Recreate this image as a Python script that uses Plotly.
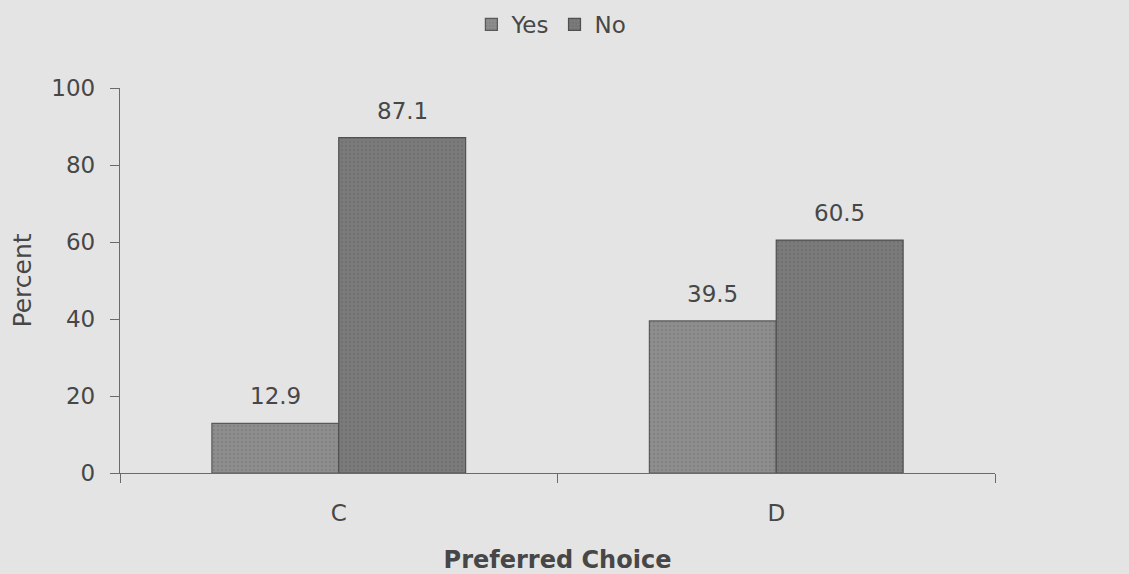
import plotly.graph_objects as go

# Survey results: share of respondents per preferred choice
categories = ["C", "D"]
yes_values = [12.9, 39.5]
no_values = [87.1, 60.5]
y_ticks = [0, 20, 40, 60, 80, 100]

BAR_W = 0.29
FONT = "DejaVu Sans, Liberation Sans, Arial, sans-serif"
TEXT = "#474747"
AXIS = "#6a6a6a"
BG = "#e4e4e4"

fig = go.Figure()

fig.add_trace(go.Bar(
    name="Yes", x=categories, y=yes_values,
    width=BAR_W, offset=-BAR_W,
    marker=dict(color="#8e8e8e", line=dict(color="#5a5a5a", width=1.2),
                pattern=dict(shape=".", fgcolor="#767676", size=4, solidity=0.3)),
))
fig.add_trace(go.Bar(
    name="No", x=categories, y=no_values,
    width=BAR_W, offset=0,
    marker=dict(color="#7b7b7b", line=dict(color="#505050", width=1.2),
                pattern=dict(shape=".", fgcolor="#666666", size=4, solidity=0.3)),
))

# value labels above each bar
for i, cat in enumerate(categories):
    for val, shift in ((yes_values[i], -BAR_W / 2), (no_values[i], BAR_W / 2)):
        fig.add_annotation(
            x=i + shift, y=val, xref="x", yref="y",
            text=f"{val:.1f}", showarrow=False,
            yanchor="bottom", yshift=12,
            font=dict(family=FONT, size=23, color=TEXT),
        )

fig.update_layout(
    width=1129, height=574,
    margin=dict(l=120, r=134, t=88, b=101, autoexpand=False),
    paper_bgcolor=BG, plot_bgcolor=BG,
    barmode="group",
    font=dict(family=FONT, size=23, color=TEXT),
    showlegend=True,
    legend=dict(orientation="h", x=0.493, xanchor="center", y=0.995, yanchor="top",
                yref="container", itemwidth=30, tracegroupgap=0,
                font=dict(family=FONT, size=23, color=TEXT), bgcolor="rgba(0,0,0,0)"),
    xaxis=dict(
        type="category", range=[-0.5, 1.5], automargin=False,
        showline=True, linecolor=AXIS, linewidth=1.3,
        ticks="outside", tickson="boundaries", ticklen=9, tickcolor=AXIS, tickwidth=1.3,
        ticklabelstandoff=19,
        showgrid=False, zeroline=False,
        tickfont=dict(family=FONT, size=23, color=TEXT),
        title=dict(text="<b>Preferred Choice</b>", standoff=27,
                   font=dict(family=FONT, size=24, color=TEXT)),
    ),
    yaxis=dict(
        range=[0, 100], tickvals=y_ticks, automargin=False,
        showline=True, linecolor=AXIS, linewidth=1.3,
        ticks="outside", ticklen=9, tickcolor=AXIS, tickwidth=1.3,
        ticklabelstandoff=10,
        showgrid=False, zeroline=False,
        tickfont=dict(family=FONT, size=23, color=TEXT),
        title=dict(text="Percent", standoff=12,
                   font=dict(family=FONT, size=25, color=TEXT)),
    ),
)

fig.write_html("out.html")
